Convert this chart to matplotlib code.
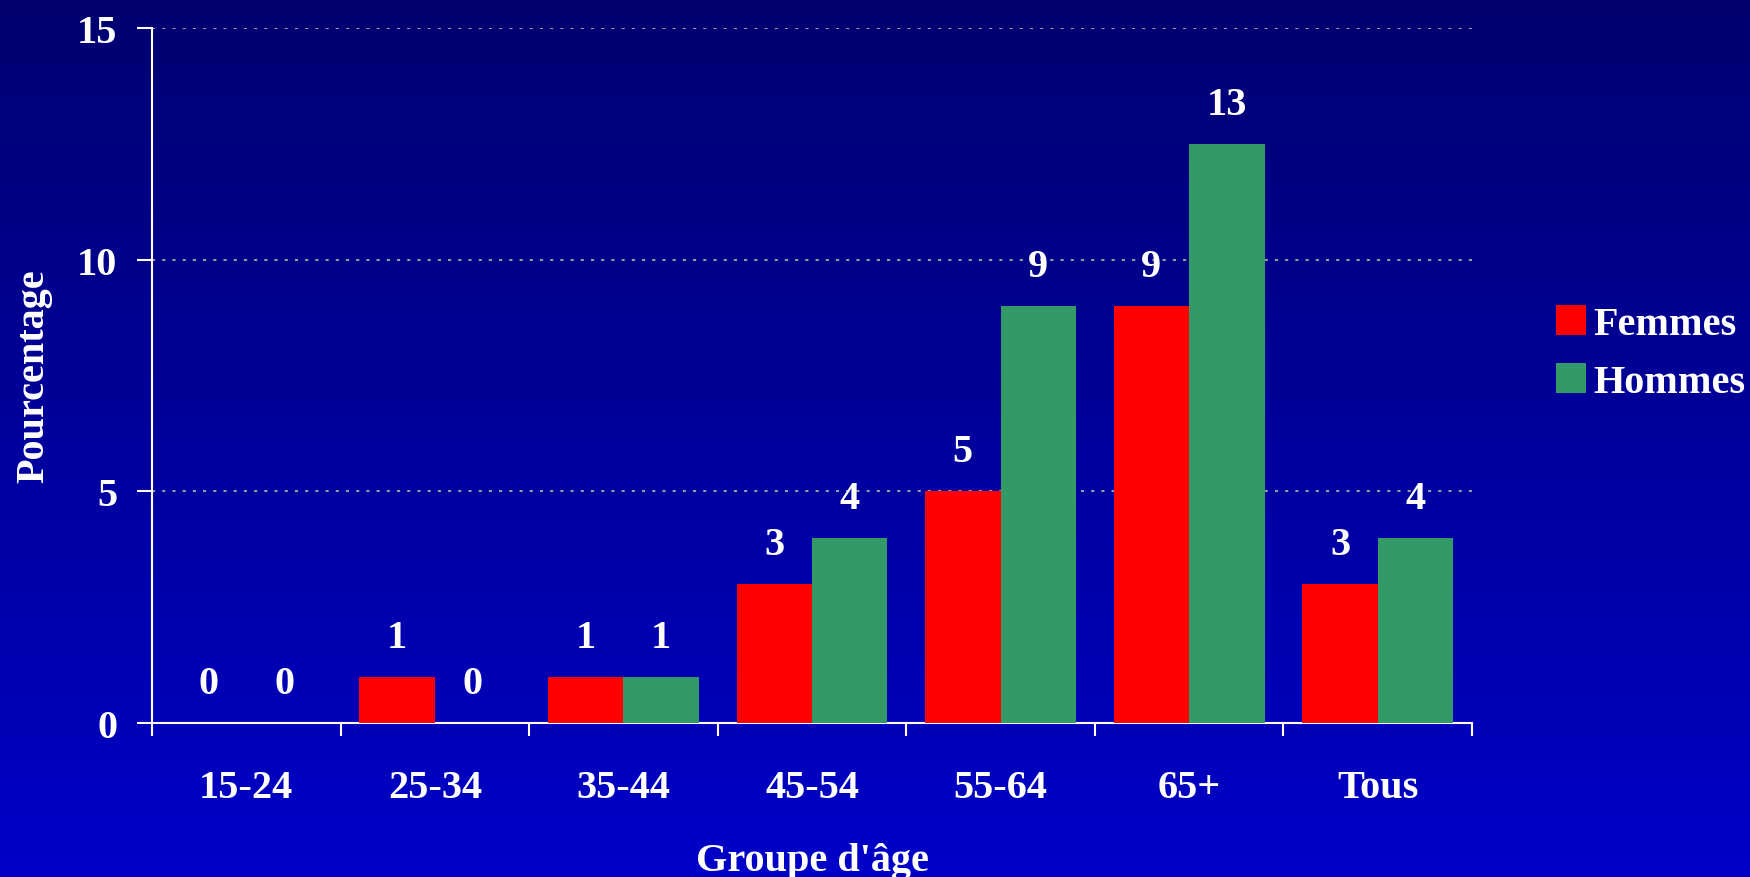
import numpy as np
import matplotlib.pyplot as plt

categories = ["15-24", "25-34", "35-44", "45-54", "55-64", "65+", "Tous"]
femmes = [0, 1, 1, 3, 5, 9, 3]
hommes = [0, 0, 1, 4, 9, 12.5, 4]
yticks = [0, 5, 10, 15]

plt.rcParams['font.family'] = ['Liberation Serif', 'DejaVu Serif']
plt.rcParams['font.weight'] = 'bold'
fs = 29

fig = plt.figure(figsize=(17.5, 8.78), dpi=100)

# gradient background
bg = fig.add_axes([0, 0, 1, 1], zorder=0)
grad = np.linspace(0, 1, 256).reshape(-1, 1)
top = np.array([0, 0, 112]) / 255
bot = np.array([0, 0, 200]) / 255
img = top + (bot - top) * grad[:, :, None]
bg.imshow(img, aspect='auto', extent=[0, 1, 0, 1])
bg.axis('off')

ax = fig.add_axes([152 / 1750, 1 - 724 / 878, 1320 / 1750, 695 / 878], zorder=1)
ax.patch.set_alpha(0)

x = np.arange(len(categories))
w = 0.4
b1 = ax.bar(x - w / 2, femmes, w, color='#FF0000', label='Femmes', zorder=3)
b2 = ax.bar(x + w / 2, hommes, w, color='#339966', label='Hommes', zorder=3)

for bars, vals in ((b1, femmes), (b2, hommes)):
    for r, v in zip(bars, vals):
        ax.annotate(str(int(np.floor(v + 0.5))), (r.get_x() + r.get_width() / 2, v),
                    xytext=(0, 28.5), textcoords='offset points', ha='center', va='center',
                    color='white', fontsize=fs, fontweight='bold', zorder=4)

ax.set_xlim(-0.5, len(categories) - 0.5)
ax.set_ylim(0, 15)
ax.set_yticks(yticks)
ax.set_yticklabels([str(t) for t in yticks])
ax.set_xticks(np.arange(len(categories) + 1) - 0.5)
ax.set_xticklabels([])
ax.set_xticks(x, minor=True)
ax.set_xticklabels(categories, minor=True)
ax.tick_params(axis='x', which='major', length=9, width=1.5, color='white', direction='out')
ax.tick_params(axis='x', which='minor', length=0, pad=33, labelsize=fs, labelcolor='white')
ax.tick_params(axis='y', length=11, width=1.5, color='white', pad=14, labelsize=fs, labelcolor='white')

for t in yticks[1:]:
    ax.axhline(t, color='#9a9a9a', lw=1.5, ls=(0, (1.5, 3.4)), zorder=1)

for s in ('top', 'right'):
    ax.spines[s].set_visible(False)
for s in ('left', 'bottom'):
    ax.spines[s].set_color('white')
    ax.spines[s].set_linewidth(1.5)

ax.set_xlabel("Groupe d'âge", color='white', fontsize=fs, fontweight='bold', labelpad=26)
ax.set_ylabel("Pourcentage", color='white', fontsize=fs, fontweight='bold', labelpad=18)

leg = fig.legend(handles=[b1, b2], loc='center left', bbox_to_anchor=(1556 / 1750, 1 - 354 / 878),
                 frameon=False, fontsize=fs, handlelength=0.75, handleheight=0.75,
                 handletextpad=0.18, labelspacing=0.5, borderpad=0, borderaxespad=0)
for t in leg.get_texts():
    t.set_color('white')
    t.set_fontweight('bold')

fig.savefig('out.png', dpi=100)
